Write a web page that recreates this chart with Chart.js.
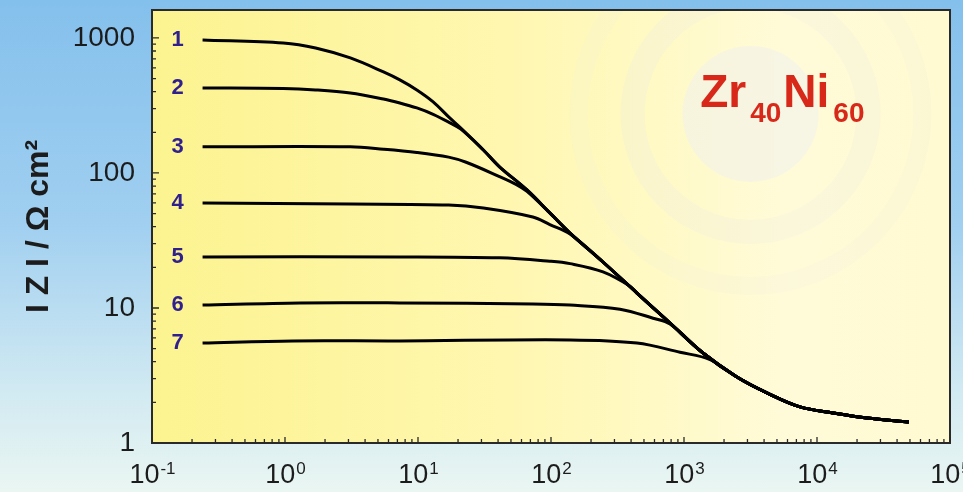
<!DOCTYPE html>
<html>
<head>
<meta charset="utf-8">
<script src="https://cdn.jsdelivr.net/npm/chart.js@4.4.1/dist/chart.umd.min.js"></script>
<style>
html,body{margin:0;padding:0;}
body{width:963px;height:492px;overflow:hidden;
  background:linear-gradient(to bottom,#84c0ec 0%,#a0cff0 45%,#d2eaf2 80%,#eaf6f2 100%);}
canvas{display:block;}
</style>
</head>
<body>
<canvas id="grafica" width="963" height="492"></canvas>
<script>
// ejes
var xTicks = [0.1, 1, 10, 100, 1000, 10000, 100000];
var xExp = ['-1', '0', '1', '2', '3', '4', '5'];
var yTicks = [1, 10, 100, 1000];
var minorSteps = [2, 3, 4, 5, 6, 7, 8, 9];
var curveNames = ['1', '2', '3', '4', '5', '6', '7'];

// |Z| (ohm cm2) vs frecuencia (Hz)
var f1 = [0.24, 0.97, 1.7, 3.1, 5.5, 7.3, 9.8, 13, 17, 21, 31, 41, 66, 98, 139, 246, 443, 785, 1390, 2500, 4200, 7450, 13200, 23800, 49000];
var z1 = [967, 918, 843, 711, 560, 489, 412, 336, 260, 215, 148, 111, 74.8, 50.6, 35.9, 21.9, 12.9, 7.74, 4.64, 3.08, 2.35, 1.85, 1.67, 1.53, 1.43];

var f2 = [0.24, 0.97, 1.7, 3.1, 5.5, 7.3, 9.8, 13, 17, 21, 31, 41, 66, 98, 139, 246, 443, 785, 1390, 2500, 4200, 7450, 13200, 23800, 49000];
var z2 = [426, 422, 412, 391, 353, 330, 303, 272, 238, 211, 148, 111, 74.8, 50.6, 35.9, 21.9, 12.9, 7.74, 4.64, 3.08, 2.35, 1.85, 1.67, 1.53, 1.43];

var f3 = [0.24, 3.1, 5.5, 9.8, 17, 23, 41, 55, 66, 98, 139, 246, 443, 785, 1390, 2500, 4200, 7450, 13200, 23800, 49000];
var z3 = [156, 156, 150, 142, 131, 120, 94, 82, 73, 50.6, 35.9, 21.9, 12.9, 7.74, 4.64, 3.08, 2.35, 1.85, 1.67, 1.53, 1.43];

var f4 = [0.24, 3.1, 17, 31, 73, 98, 139, 246, 443, 785, 1390, 2500, 4200, 7450, 13200, 23800, 49000];
var z4 = [59.9, 58.9, 57.9, 55.0, 47.2, 41.5, 35.3, 21.9, 12.9, 7.74, 4.64, 3.08, 2.35, 1.85, 1.67, 1.53, 1.43];

var f5 = [0.24, 7.3, 41, 98, 139, 246, 393, 443, 785, 1390, 2500, 4200, 7450, 13200, 23800, 49000];
var z5 = [23.9, 23.9, 23.5, 22.2, 21.3, 18.5, 14.5, 12.9, 7.74, 4.64, 3.08, 2.35, 1.85, 1.67, 1.53, 1.43];

var f6 = [0.24, 1.3, 7.3, 73, 139, 330, 585, 785, 1390, 2500, 4200, 7450, 13200, 23800, 49000];
var z6 = [10.5, 10.9, 10.9, 10.7, 10.5, 9.8, 8.4, 7.6, 4.64, 3.08, 2.35, 1.85, 1.67, 1.53, 1.43];

var f7 = [0.24, 1.15, 7.3, 139, 443, 933, 1570, 2500, 4200, 7450, 13200, 23800, 49000];
var z7 = [5.5, 5.7, 5.7, 5.8, 5.5, 4.7, 4.15, 3.08, 2.35, 1.85, 1.67, 1.53, 1.43];

var curvasF = [f1, f2, f3, f4, f5, f6, f7];
var curvasZ = [z1, z2, z3, z4, z5, z6, z7];

var fuente = "'Liberation Sans', Arial, sans-serif";

function serie(f, z) {
    return f.map(function (v, i) { return {x: v, y: z[i]}; });
}

var decorado = {
    id: 'decorado',
    beforeDraw: function (chart) {
        var c = chart.ctx, a = chart.chartArea;
        var w = a.right - a.left, h = a.bottom - a.top;
        c.save();
        var g = c.createLinearGradient(a.left, 0, a.right, 0);
        g.addColorStop(0, '#fcf390');
        g.addColorStop(0.45, '#fff7b0');
        g.addColorStop(0.8, '#fffbd9');
        g.addColorStop(1, '#fffad0');
        c.fillStyle = g;
        c.fillRect(a.left, a.top, w, h);
        // marca de agua
        c.beginPath();
        c.rect(a.left, a.top, w, h);
        c.clip();
        var cx = a.left + 0.75 * w, cy = a.top + 0.24 * h;
        c.fillStyle = 'rgba(240,240,236,0.55)';
        c.beginPath(); c.arc(cx, cy, 68, 0, 2 * Math.PI); c.fill();
        c.strokeStyle = 'rgba(236,236,228,0.25)';
        c.lineWidth = 24;
        c.beginPath(); c.arc(cx, cy, 118, 0, 2 * Math.PI); c.stroke();
        c.strokeStyle = 'rgba(236,236,228,0.15)';
        c.lineWidth = 18;
        c.beginPath(); c.arc(cx, cy, 172, 0, 2 * Math.PI); c.stroke();
        c.restore();
    },
    afterDraw: function (chart) {
        var c = chart.ctx, a = chart.chartArea;
        var sx = chart.scales.x, sy = chart.scales.y;
        var w = a.right - a.left, h = a.bottom - a.top;
        c.save();
        // marco
        c.strokeStyle = '#2a2a2a';
        c.lineWidth = 2;
        c.strokeRect(a.left, a.top, w, h);
        // marcas hacia dentro
        c.lineWidth = 1.3;
        c.beginPath();
        yTicks.forEach(function (d) {
            var p = sy.getPixelForValue(d);
            c.moveTo(a.left, p); c.lineTo(a.left + 7, p);
            minorSteps.forEach(function (m) {
                var v = m * d;
                if (v < sy.max) {
                    var q = sy.getPixelForValue(v);
                    c.moveTo(a.left, q); c.lineTo(a.left + 4, q);
                }
            });
        });
        xTicks.forEach(function (d) {
            var p = sx.getPixelForValue(d);
            c.moveTo(p, a.bottom); c.lineTo(p, a.bottom - 6);
            minorSteps.forEach(function (m) {
                var v = m * d;
                if (v < sx.max) {
                    var q = sx.getPixelForValue(v);
                    c.moveTo(q, a.bottom); c.lineTo(q, a.bottom - 4);
                }
            });
        });
        c.stroke();

        // etiquetas 10^n
        c.fillStyle = '#1c1c1c';
        c.textBaseline = 'alphabetic';
        c.textAlign = 'left';
        xTicks.forEach(function (d, i) {
            var p = sx.getPixelForValue(d);
            c.font = '27px ' + fuente;
            var wb = c.measureText('10').width;
            c.font = '17px ' + fuente;
            var we = c.measureText(xExp[i]).width;
            var x0 = p - (wb + we) / 2;
            c.font = '27px ' + fuente;
            c.fillText('10', x0, a.bottom + 40);
            c.font = '17px ' + fuente;
            c.fillText(xExp[i], x0 + wb + 1, a.bottom + 31);
        });

        // numeros de curva
        c.fillStyle = '#30208e';
        c.font = 'bold 22px ' + fuente;
        c.textAlign = 'center';
        c.textBaseline = 'middle';
        chart.data.datasets.forEach(function (ds, i) {
            var pt = chart.getDatasetMeta(i).data[0];
            c.fillText(curveNames[i], pt.x - 25, pt.y);
        });

        // Zr40Ni60
        c.fillStyle = '#d8281a';
        c.textAlign = 'left';
        c.textBaseline = 'alphabetic';
        var bx = a.left + 0.687 * w, by = a.top + 0.224 * h;
        var partes = [['Zr', 0], ['40', 1], ['Ni', 0], ['60', 1]];
        partes.forEach(function (t) {
            if (t[1]) {
                c.font = 'bold 28px ' + fuente;
                bx += 4;
                c.fillText(t[0], bx, by + 15);
                bx += c.measureText(t[0]).width + 2;
            } else {
                c.font = 'bold 46px ' + fuente;
                c.fillText(t[0], bx, by);
                bx += c.measureText(t[0]).width;
            }
        });
        c.restore();
    }
};

var grafica = document.getElementById('grafica').getContext('2d');
var chart = new Chart(grafica, {
    type: 'line',
    data: {
        datasets: curvasF.map(function (f, i) {
            return {
                label: curveNames[i],
                data: serie(f, curvasZ[i]),
                borderColor: '#000000',
                borderWidth: 3,
                pointRadius: 0,
                fill: false,
                tension: 0.35
            };
        })
    },
    options: {
        responsive: false,
        animation: false,
        devicePixelRatio: 1,
        layout: {padding: {top: 10, right: 13, left: 0, bottom: 0}},
        plugins: {legend: {display: false}, tooltip: {enabled: false}},
        scales: {
            x: {
                type: 'logarithmic',
                min: 0.1,
                max: 100000,
                grid: {display: false, drawTicks: false},
                border: {display: false},
                ticks: {display: false},
                afterFit: function (s) { s.height = 49; s.paddingLeft = 0; s.paddingRight = 0; }
            },
            y: {
                type: 'logarithmic',
                min: 1,
                max: 1610,
                grid: {display: false, drawTicks: false},
                border: {display: false},
                afterBuildTicks: function (s) {
                    s.ticks = yTicks.map(function (v) { return {value: v}; });
                },
                ticks: {
                    autoSkip: false,
                    padding: 17,
                    color: '#1c1c1c',
                    font: {family: fuente, size: 28, lineHeight: 0.7},
                    callback: function (v) { return String(v); }
                },
                title: {
                    display: true,
                    text: 'I Z I / Ω cm²',
                    color: '#1c1c1c',
                    font: {family: fuente, size: 32, weight: 'bold'},
                    padding: {top: 20, bottom: 0}
                },
                afterFit: function (s) { s.width = 152; s.paddingTop = 0; s.paddingBottom = 0; }
            }
        }
    },
    plugins: [decorado]
});
</script>
</body>
</html>
